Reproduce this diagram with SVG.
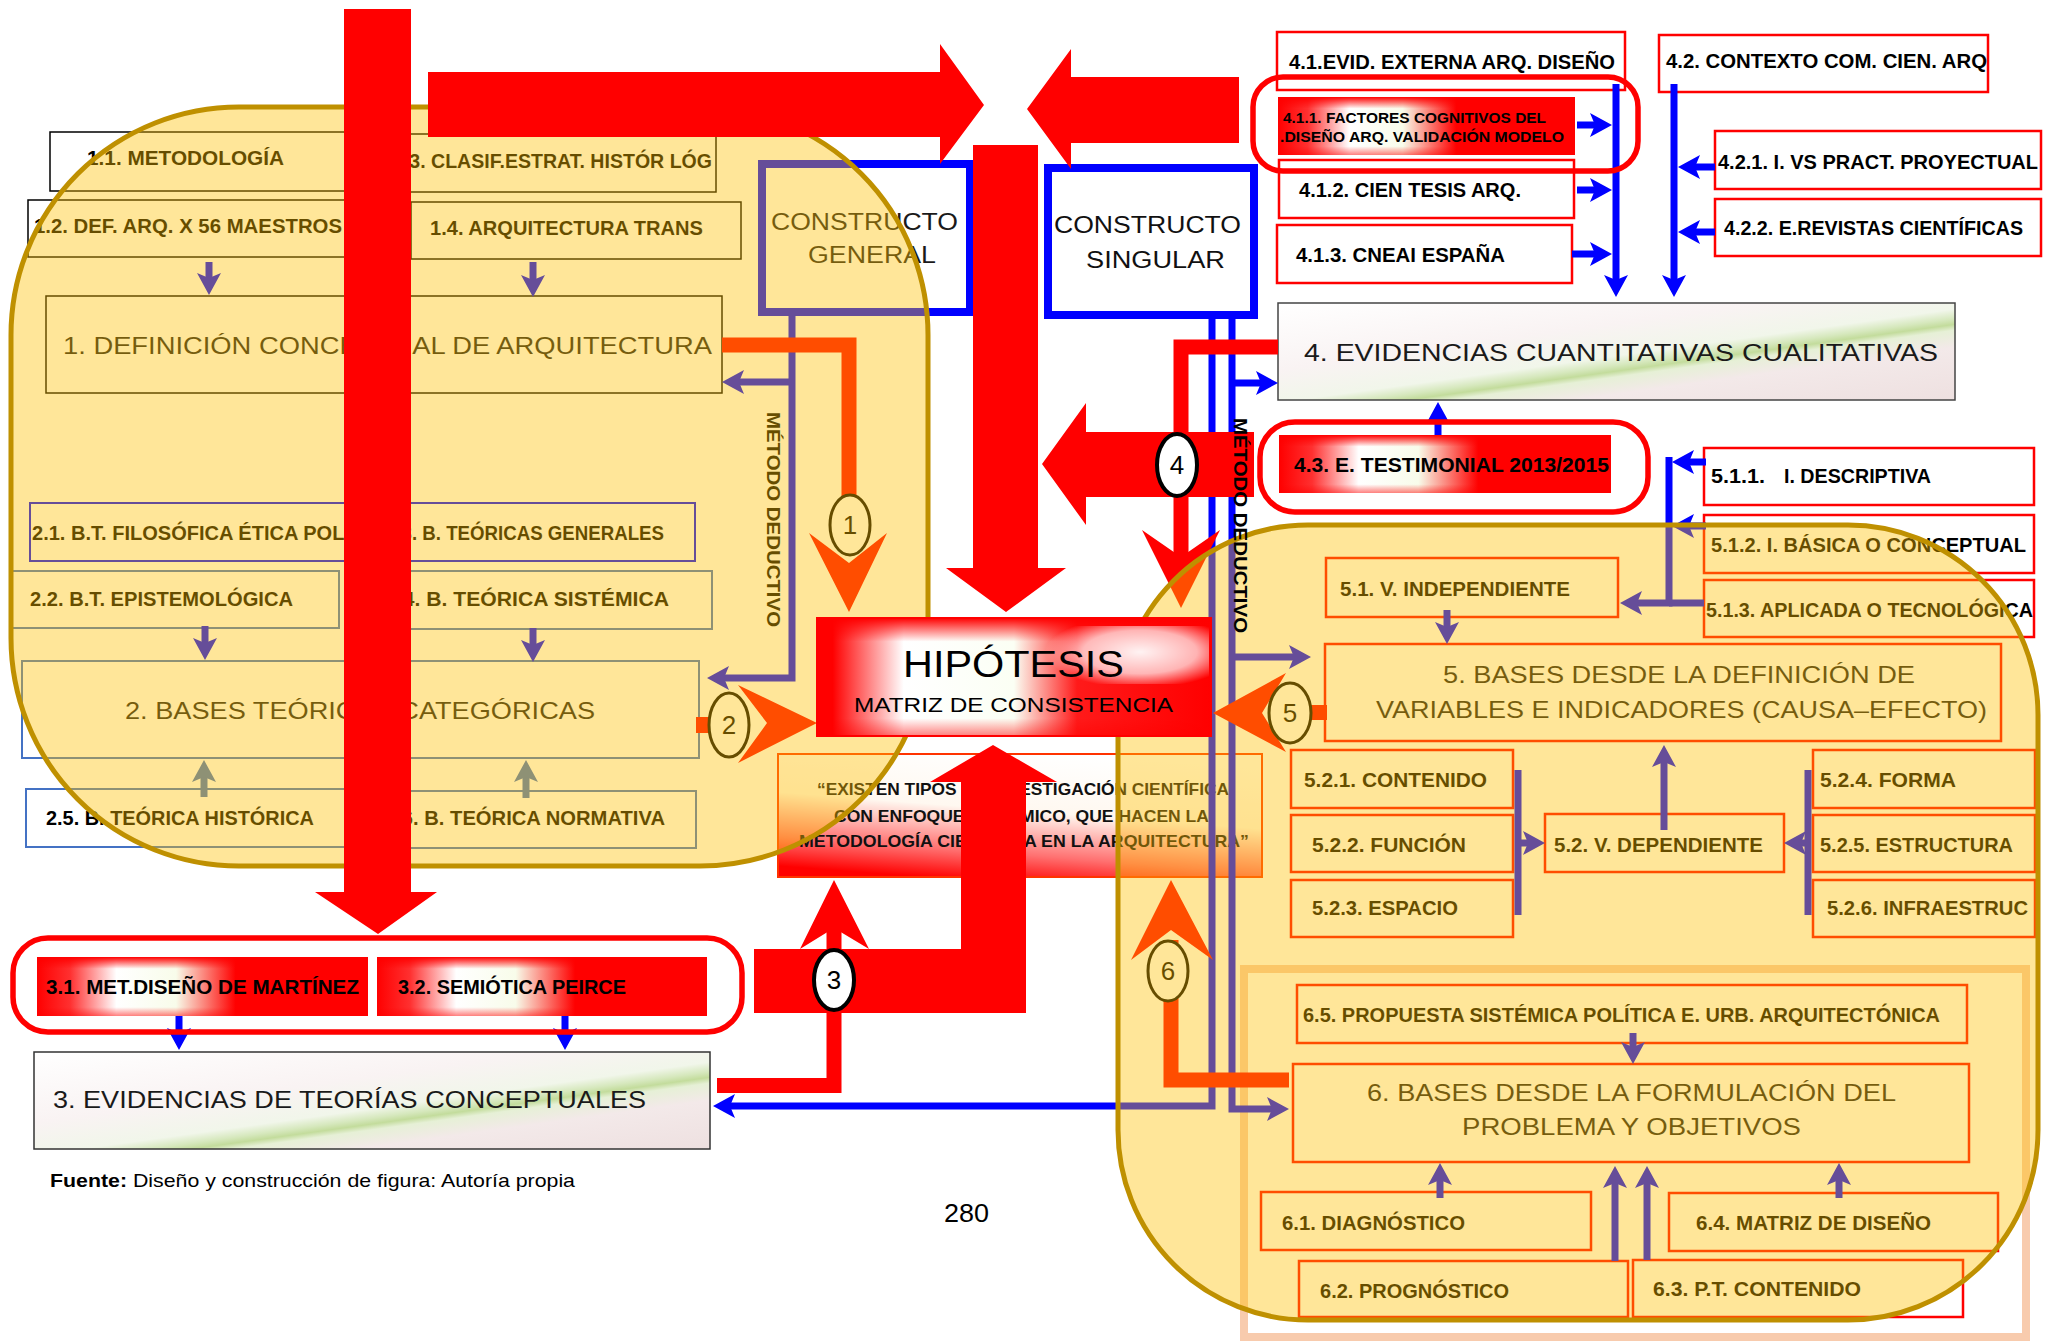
<svg xmlns="http://www.w3.org/2000/svg" width="2058" height="1342" viewBox="0 0 2058 1342">
<style>
text{font-family:"Liberation Sans",Arial,Helvetica,sans-serif}
.b{font-weight:bold;font-size:20px;fill:#000}
.b21{font-weight:bold;font-size:21px;fill:#000}
.l{font-size:24px;fill:#1a1a1a}
.bx{fill:#fff;stroke:#000;stroke-width:1.5}
.bb{fill:#fff;stroke:#4472C4;stroke-width:2}
.bp{fill:#fff;stroke:#0000ff;stroke-width:2}
.rb{fill:#fff;stroke:#ff0000;stroke-width:2.5}
.cb{fill:#fff;stroke:#0000ff;stroke-width:8}
.og{fill:none;stroke:#ff0000;stroke-width:5.5}
.ln{fill:none;stroke:#0000ff;stroke-width:7;marker-end:url(#mB)}
.ln0{fill:none;stroke:#0000ff;stroke-width:7}
.ls{fill:none;stroke:#4472C4;stroke-width:7;marker-end:url(#mS)}
.rl{fill:none;stroke:#ff0000;stroke-width:15}
.ra{fill:#ff0000}
.reg{fill:#FFC000;fill-opacity:0.4;stroke:#BF9000;stroke-width:5}
.ci{fill:#fff;stroke:#000;stroke-width:3}
.cd{font-size:26px;fill:#000;text-anchor:middle}
</style>
<defs>
<marker id="mB" markerUnits="userSpaceOnUse" markerWidth="22" markerHeight="24" refX="15" refY="12" orient="auto" overflow="visible"><path d="M0,0 L22,12 L0,24 L5,12 z" fill="#0000ff"/></marker>
<marker id="mS" markerUnits="userSpaceOnUse" markerWidth="22" markerHeight="24" refX="15" refY="12" orient="auto" overflow="visible"><path d="M0,0 L22,12 L0,24 L5,12 z" fill="#4472C4"/></marker>
<linearGradient id="gR" x1="0" y1="0" x2="1" y2="0">
<stop offset="0" stop-color="#ff0000"/><stop offset="0.1" stop-color="#ff3030"/><stop offset="0.24" stop-color="#ffffff"/><stop offset="0.42" stop-color="#f8fcea"/><stop offset="0.6" stop-color="#ff0000"/><stop offset="1" stop-color="#ff0000"/>
</linearGradient>
<linearGradient id="gRv" x1="0" y1="0" x2="0" y2="1">
<stop offset="0" stop-color="#ff0000" stop-opacity="1"/><stop offset="0.2" stop-color="#ff0000" stop-opacity="0"/><stop offset="0.85" stop-color="#ff0000" stop-opacity="0"/><stop offset="1" stop-color="#ff0000" stop-opacity="0.5"/>
</linearGradient>
<linearGradient id="gH" x1="0" y1="0" x2="1" y2="0">
<stop offset="0" stop-color="#ff0000"/><stop offset="0.04" stop-color="#ff0000"/><stop offset="0.22" stop-color="#ffffff"/><stop offset="0.5" stop-color="#fbfff4"/><stop offset="0.66" stop-color="#ff1a1a"/><stop offset="1" stop-color="#ff0000"/>
</linearGradient>
<radialGradient id="gHw" gradientUnits="userSpaceOnUse" cx="1140" cy="652" r="95" gradientTransform="translate(1140 652) scale(1 0.38) translate(-1140 -652)">
<stop offset="0" stop-color="#ffffff" stop-opacity="0.95"/><stop offset="0.6" stop-color="#ffffff" stop-opacity="0.7"/><stop offset="1" stop-color="#ffffff" stop-opacity="0"/>
</radialGradient>
<linearGradient id="gE4" gradientUnits="userSpaceOnUse" x1="1278" y1="303" x2="1304" y2="491">
<stop offset="0" stop-color="#ffffff"/><stop offset="0.35" stop-color="#f9f3f3"/><stop offset="0.52" stop-color="#f1f6ea"/><stop offset="0.57" stop-color="#d6e8bd"/><stop offset="0.6" stop-color="#c3dc9c"/><stop offset="0.63" stop-color="#e6f0d6"/><stop offset="0.72" stop-color="#f3e9e9"/><stop offset="1" stop-color="#eee0e0"/>
</linearGradient>
<linearGradient id="gE3" gradientUnits="userSpaceOnUse" x1="34" y1="1052" x2="60" y2="1240">
<stop offset="0" stop-color="#ffffff"/><stop offset="0.37" stop-color="#f9f3f3"/><stop offset="0.54" stop-color="#f1f6ea"/><stop offset="0.59" stop-color="#d6e8bd"/><stop offset="0.62" stop-color="#c3dc9c"/><stop offset="0.65" stop-color="#e6f0d6"/><stop offset="0.74" stop-color="#f3e9e9"/><stop offset="1" stop-color="#eee0e0"/>
</linearGradient>
<linearGradient id="gQ" x1="0.6" y1="0" x2="0.3" y2="1">
<stop offset="0" stop-color="#ffffff"/><stop offset="0.45" stop-color="#fff8f0"/><stop offset="0.78" stop-color="#ff7070"/><stop offset="1" stop-color="#ff0000"/>
</linearGradient>
</defs>

<rect width="2058" height="1342" fill="#fff"/>

<!-- inner frame of region 6 -->
<rect x="1244" y="969" width="782" height="368" fill="none" stroke="#F8CBAD" stroke-width="8"/>

<!-- nodes under regions -->
<g id="n1-1"><rect class="bx" x="50" y="132" width="350" height="59"/><text class="b" x="87" y="165" textLength="197" lengthAdjust="spacingAndGlyphs">1.1. METODOLOGÍA</text></g>
<g id="n1-3"><rect class="bx" x="385" y="134" width="331" height="58"/><text class="b" x="393" y="168" textLength="319" lengthAdjust="spacingAndGlyphs">1.3. CLASIF.ESTRAT. HISTÓR LÓG</text></g>
<g id="n1-2"><rect class="bx" x="28" y="200" width="372" height="57"/><text class="b" x="34" y="233" textLength="308" lengthAdjust="spacingAndGlyphs">1.2. DEF. ARQ. X 56 MAESTROS</text></g>
<g id="n1-4"><rect class="bx" x="411" y="202" width="330" height="57"/><text class="b" x="430" y="235" textLength="273" lengthAdjust="spacingAndGlyphs">1.4. ARQUITECTURA TRANS</text></g>
<g id="n1"><rect class="bx" x="46" y="296" width="676" height="97"/><text class="l" x="63" y="354" textLength="649" lengthAdjust="spacingAndGlyphs">1. DEFINICIÓN CONCEPTUAL DE ARQUITECTURA</text></g>
<g id="n2-1"><rect class="bp" x="30" y="503" width="360" height="58"/><text class="b" x="32" y="540" textLength="318" lengthAdjust="spacingAndGlyphs">2.1. B.T. FILOSÓFICA ÉTICA POL.</text></g>
<g id="n2-3"><rect class="bp" x="380" y="503" width="315" height="58"/><text class="b" x="386" y="540" textLength="278" lengthAdjust="spacingAndGlyphs">2.3. B. TEÓRICAS GENERALES</text></g>
<g id="n2-2"><rect class="bb" x="10" y="571" width="329" height="57"/><text class="b" x="30" y="606" textLength="263" lengthAdjust="spacingAndGlyphs">2.2. B.T. EPISTEMOLÓGICA</text></g>
<g id="n2-4"><rect class="bb" x="352" y="571" width="360" height="58"/><text class="b" x="385" y="606" textLength="284" lengthAdjust="spacingAndGlyphs">2.4. B. TEÓRICA SISTÉMICA</text></g>
<g id="n2"><rect class="bb" x="22" y="661" width="677" height="97"/><text class="l" x="125" y="719" textLength="470" lengthAdjust="spacingAndGlyphs">2. BASES TEÓRICAS CATEGÓRICAS</text></g>
<g id="n2-5"><rect class="bb" x="26" y="789" width="360" height="58"/><text class="b" x="46" y="825" textLength="268" lengthAdjust="spacingAndGlyphs">2.5. B. TEÓRICA HISTÓRICA</text></g>
<g id="n2-6"><rect class="bb" x="380" y="791" width="316" height="57"/><text class="b" x="385" y="825" textLength="280" lengthAdjust="spacingAndGlyphs">2.6. B. TEÓRICA NORMATIVA</text></g>
<g id="cgeneral"><rect class="cb" x="762" y="164" width="208" height="148"/><text class="l" x="771" y="230" style="font-size:23px" textLength="187" lengthAdjust="spacingAndGlyphs">CONSTRUCTO</text><text class="l" x="808" y="263" style="font-size:23px" textLength="128" lengthAdjust="spacingAndGlyphs">GENERAL</text></g>
<g id="csingular"><rect class="cb" x="1048" y="168" width="206" height="147"/><text class="l" x="1054" y="233" style="font-size:23px;fill:#111" textLength="187" lengthAdjust="spacingAndGlyphs">CONSTRUCTO</text><text class="l" x="1086" y="268" style="font-size:23px;fill:#111" textLength="139" lengthAdjust="spacingAndGlyphs">SINGULAR</text></g>

<g id="n4-1"><rect class="rb" x="1277" y="32" width="348" height="58"/><text class="b21" x="1289" y="69" textLength="326" lengthAdjust="spacingAndGlyphs">4.1.EVID. EXTERNA ARQ. DISEÑO</text></g>
<g id="n4-2"><rect class="rb" x="1659" y="35" width="329" height="57"/><text class="b21" x="1666" y="68" textLength="321" lengthAdjust="spacingAndGlyphs">4.2. CONTEXTO COM. CIEN. ARQ</text></g>
<g id="n4-1-2"><rect class="rb" x="1279" y="160" width="295" height="58"/><text class="b21" x="1299" y="197" textLength="222" lengthAdjust="spacingAndGlyphs">4.1.2. CIEN TESIS ARQ.</text></g>
<g id="n4-1-3"><rect class="rb" x="1277" y="225" width="295" height="58"/><text class="b21" x="1296" y="262" textLength="209" lengthAdjust="spacingAndGlyphs">4.1.3. CNEAI ESPAÑA</text></g>
<g id="n4-2-1"><rect class="rb" x="1715" y="131" width="326" height="58"/><text class="b21" x="1718" y="169" textLength="320" lengthAdjust="spacingAndGlyphs">4.2.1. I. VS PRACT. PROYECTUAL</text></g>
<g id="n4-2-2"><rect class="rb" x="1715" y="199" width="326" height="57"/><text class="b21" x="1724" y="235" textLength="299" lengthAdjust="spacingAndGlyphs">4.2.2. E.REVISTAS CIENTÍFICAS</text></g>
<g id="n4"><rect x="1278" y="303" width="677" height="97" fill="url(#gE4)" stroke="#444" stroke-width="1.5"/><text class="l" x="1304" y="361" textLength="634" lengthAdjust="spacingAndGlyphs">4. EVIDENCIAS CUANTITATIVAS CUALITATIVAS</text></g>
<g id="n5-1-1"><rect class="rb" x="1704" y="448" width="330" height="57"/><text class="b"><tspan x="1711" y="483" textLength="54" lengthAdjust="spacingAndGlyphs">5.1.1.</tspan><tspan x="1784" y="483" textLength="147" lengthAdjust="spacingAndGlyphs">I. DESCRIPTIVA</tspan></text></g>
<g id="n5-1-2"><rect class="rb" x="1704" y="515" width="330" height="58"/><text class="b" x="1711" y="552" textLength="315" lengthAdjust="spacingAndGlyphs">5.1.2. I. BÁSICA O CONCEPTUAL</text></g>
<g id="n5-1-3"><rect class="rb" x="1704" y="580" width="330" height="57"/><text class="b" x="1706" y="617" textLength="327" lengthAdjust="spacingAndGlyphs">5.1.3. APLICADA O TECNOLÓGICA</text></g>
<g id="n5-1"><rect class="rb" x="1326" y="558" width="292" height="59"/><text class="b" x="1340" y="596" textLength="230" lengthAdjust="spacingAndGlyphs">5.1. V. INDEPENDIENTE</text></g>
<g id="n5"><rect class="rb" x="1325" y="644" width="676" height="97"/><text class="l" x="1443" y="683" textLength="472" lengthAdjust="spacingAndGlyphs">5. BASES DESDE LA DEFINICIÓN DE</text><text class="l" x="1376" y="718" textLength="611" lengthAdjust="spacingAndGlyphs">VARIABLES E INDICADORES (CAUSA–EFECTO)</text></g>
<g id="n5-2-1"><rect class="rb" x="1291" y="750" width="222" height="58"/><text class="b" x="1304" y="787" textLength="183" lengthAdjust="spacingAndGlyphs">5.2.1. CONTENIDO</text></g>
<g id="n5-2-2"><rect class="rb" x="1291" y="815" width="222" height="57"/><text class="b" x="1312" y="852" textLength="154" lengthAdjust="spacingAndGlyphs">5.2.2. FUNCIÓN</text></g>
<g id="n5-2-3"><rect class="rb" x="1291" y="880" width="222" height="57"/><text class="b" x="1312" y="915" textLength="146" lengthAdjust="spacingAndGlyphs">5.2.3. ESPACIO</text></g>
<g id="n5-2"><rect class="rb" x="1545" y="814" width="239" height="58"/><text class="b" x="1554" y="852" textLength="209" lengthAdjust="spacingAndGlyphs">5.2. V. DEPENDIENTE</text></g>
<g id="n5-2-4"><rect class="rb" x="1813" y="750" width="222" height="58"/><text class="b" x="1820" y="787" textLength="136" lengthAdjust="spacingAndGlyphs">5.2.4. FORMA</text></g>
<g id="n5-2-5"><rect class="rb" x="1813" y="815" width="222" height="57"/><text class="b" x="1820" y="852" textLength="193" lengthAdjust="spacingAndGlyphs">5.2.5. ESTRUCTURA</text></g>
<g id="n5-2-6"><rect class="rb" x="1813" y="880" width="222" height="57"/><text class="b" x="1827" y="915" textLength="201" lengthAdjust="spacingAndGlyphs">5.2.6. INFRAESTRUC</text></g>
<g id="n6-5"><rect class="rb" x="1297" y="985" width="670" height="58"/><text class="b" x="1303" y="1022" textLength="637" lengthAdjust="spacingAndGlyphs">6.5. PROPUESTA SISTÉMICA POLÍTICA E. URB. ARQUITECTÓNICA</text></g>
<g id="n6"><rect class="rb" x="1293" y="1064" width="676" height="98"/><text class="l" x="1367" y="1101" textLength="529" lengthAdjust="spacingAndGlyphs">6. BASES DESDE LA FORMULACIÓN DEL</text><text class="l" x="1462" y="1135" textLength="339" lengthAdjust="spacingAndGlyphs">PROBLEMA Y OBJETIVOS</text></g>
<g id="n6-1"><rect class="rb" x="1261" y="1192" width="330" height="58"/><text class="b" x="1282" y="1230" textLength="183" lengthAdjust="spacingAndGlyphs">6.1. DIAGNÓSTICO</text></g>
<g id="n6-4"><rect class="rb" x="1669" y="1193" width="329" height="58"/><text class="b" x="1696" y="1230" textLength="235" lengthAdjust="spacingAndGlyphs">6.4. MATRIZ DE DISEÑO</text></g>
<g id="n6-2"><rect class="rb" x="1299" y="1261" width="329" height="56"/><text class="b" x="1320" y="1298" textLength="189" lengthAdjust="spacingAndGlyphs">6.2. PROGNÓSTICO</text></g>
<g id="n6-3"><rect class="rb" x="1633" y="1260" width="330" height="57"/><text class="b" x="1653" y="1296" textLength="208" lengthAdjust="spacingAndGlyphs">6.3. P.T. CONTENIDO</text></g>
<g id="quote"><rect x="778" y="754" width="484" height="123" fill="url(#gQ)" stroke="#ff3300" stroke-width="2"/>
<text class="b" style="font-size:17px;fill:#111" x="817" y="795" textLength="412" lengthAdjust="spacingAndGlyphs">“EXISTEN TIPOS DE INVESTIGACIÓN CIENTÍFICA</text>
<text class="b" style="font-size:17px;fill:#111" x="834" y="822" textLength="375" lengthAdjust="spacingAndGlyphs">CON ENFOQUE SISTÉMICO, QUE HACEN LA</text>
<text class="b" style="font-size:17px;fill:#111" x="799" y="847" textLength="450" lengthAdjust="spacingAndGlyphs">METODOLOGÍA CIENTÍFICA EN LA ARQUITECTURA”</text></g>
<g id="n3"><rect x="34" y="1052" width="676" height="97" fill="url(#gE3)" stroke="#333" stroke-width="1.5"/><text class="l" x="53" y="1108" textLength="593" lengthAdjust="spacingAndGlyphs">3. EVIDENCIAS DE TEORÍAS CONCEPTUALES</text></g>
<text class="b" transform="translate(767,412) rotate(90)" style="font-size:19px" textLength="215" lengthAdjust="spacingAndGlyphs">MÉTODO DEDUCTIVO</text>

<!-- thin connectors -->
<g id="connectors">
<path class="ln" d="M209,262 V288"/>
<path class="ln" d="M533,262 V290"/>
<path class="ln" d="M205,626 V653"/>
<path class="ln" d="M533,628 V655"/>
<path class="ls" d="M204,797 V767"/>
<path class="ls" d="M526,798 V767"/>
<path class="ln" d="M792,312 V678 H714"/>
<path class="ln" d="M792,382 H729"/>
<path class="ln" d="M1212,315 V1106 H720"/>
<path class="ln" d="M1232,315 V1109 H1282"/>
<path class="ln" d="M1232,383 H1271"/>
<path class="ln" d="M1232,657 H1304"/>
<path class="ln" d="M1616,84 V290"/>
<path class="ln" d="M1577,125 H1605"/>
<path class="ln" d="M1577,190 H1605"/>
<path class="ln" d="M1572,254 H1605"/>
<path class="ln" d="M1674,84 V290"/>
<path class="ln" d="M1715,167 H1685"/>
<path class="ln" d="M1715,232 H1685"/>
<path class="ln" d="M1438,435 V409"/>
<path class="ln" d="M1669,457 V603 H1627"/>
<path class="ln0" d="M1704,603 H1669"/>
<path class="ln" d="M1706,462 H1679"/>
<path class="ln" d="M1706,526 H1679"/>
<path class="ln" d="M1447,610 V637"/>
<path class="ln" d="M1664,830 V752"/>
<path class="ln0" d="M1518,770 V915"/>
<path class="ln" d="M1518,843 H1538"/>
<path class="ln0" d="M1808,770 V915"/>
<path class="ln" d="M1808,843 H1791"/>
<path class="ln" d="M1633,1033 V1057"/>
<path class="ln" d="M1440,1198 V1170"/>
<path class="ln" d="M1615,1261 V1173"/>
<path class="ln" d="M1647,1260 V1173"/>
<path class="ln" d="M1839,1198 V1170"/>
<path class="ln" d="M179,1016 V1043"/>
<path class="ln" d="M565,1016 V1043"/>
<path class="rl" d="M722,345 H849 V540"/>
<polygon class="ra" points="809,533 849,563 887,533 849,612"/>
<rect class="ra" x="696" y="717" width="26" height="16"/>
<polygon class="ra" points="738,685 767,723 738,763 817,723"/>
<rect class="ra" x="1308" y="705" width="19" height="15"/>
<polygon class="ra" points="1286,673 1262,713 1286,752 1213,713"/>
<path class="rl" d="M1289,1080 H1171 V940"/>
<polygon class="ra" points="1171,880 1213,960 1171,930 1131,960"/>
<path class="rl" d="M1278,347 H1181 V562"/>
<polygon class="ra" points="1142,530 1181,557 1220,530 1181,608"/>
</g>
<g id="c1"><ellipse class="ci" cx="850" cy="525" rx="20" ry="30"/><text class="cd" x="850" y="534">1</text></g>
<g id="c2"><ellipse class="ci" cx="729" cy="725" rx="20" ry="32"/><text class="cd" x="729" y="734">2</text></g>
<g id="c5"><ellipse class="ci" cx="1290" cy="713" rx="21" ry="30"/><text class="cd" x="1290" y="722">5</text></g>
<g id="c6"><ellipse class="ci" cx="1168" cy="971" rx="20" ry="30"/><text class="cd" x="1168" y="980">6</text></g>

<!-- regions -->
<rect id="region1" class="reg" x="11" y="107" width="917" height="759" rx="228"/>
<rect id="region5" class="reg" x="1118" y="525" width="920" height="795" rx="190"/>

<!-- main connectors on top -->
<g id="connectors-main">
<polygon class="ra" points="344,9 411,9 411,892 437,892 378,934 315,892 344,892"/>
<polygon class="ra" points="428,72 940,72 940,44 984,105 940,164 940,137 428,137"/>
<polygon class="ra" points="1239,77 1071,77 1071,49 1027,109 1071,169 1071,143 1239,143"/>
<polygon class="ra" points="973,145 1038,145 1038,568 1066,568 1006,612 946,568 973,568"/>
<polygon class="ra" points="1254,432 1086,432 1086,403 1042,464 1086,525 1086,497 1254,497"/>
<polygon class="ra" points="754,949 961,949 961,782 930,782 993,745 1057,782 1026,782 1026,1013 754,1013"/>
<path class="rl" d="M717,1085.5 H834 V1010"/>
<path class="rl" d="M834,949 V905"/>
<polygon class="ra" points="834,880 869,949 834,928 800,949"/>
</g>

<g id="hipotesis"><rect x="817" y="618" width="394" height="118" fill="url(#gH)" stroke="#ff0000" stroke-width="2"/><rect x="817" y="618" width="394" height="118" fill="url(#gRv)"/><rect x="1030" y="626" width="179" height="58" fill="url(#gHw)"/>
<text x="903" y="677" style="font-size:37px;fill:#000" textLength="221" lengthAdjust="spacingAndGlyphs">HIPÓTESIS</text>
<text x="854" y="712" style="font-size:21px;fill:#000" textLength="319" lengthAdjust="spacingAndGlyphs">MATRIZ DE CONSISTENCIA</text></g>
<g id="c3"><ellipse cx="834" cy="980" rx="20" ry="30" fill="#fff" stroke="#000" stroke-width="4"/><text class="cd" x="834" y="989">3</text></g>
<g id="c4"><ellipse cx="1177" cy="465" rx="20" ry="31" fill="#fff" stroke="#000" stroke-width="4"/><text class="cd" x="1177" y="474">4</text></g>
<text class="b" transform="translate(1234,418) rotate(90)" style="font-size:19px" textLength="215" lengthAdjust="spacingAndGlyphs">MÉTODO DEDUCTIVO</text>

<g id="g4-1-1"><rect class="og" x="1253" y="77" width="385" height="94" rx="30"/>
<rect x="1278" y="97" width="297" height="58" fill="url(#gR)"/><rect x="1278" y="97" width="297" height="58" fill="url(#gRv)"/>
<text class="b" style="font-size:14.5px" x="1283" y="123" textLength="263" lengthAdjust="spacingAndGlyphs">4.1.1. FACTORES COGNITIVOS DEL</text>
<text class="b" style="font-size:14.5px" x="1280" y="142" textLength="284" lengthAdjust="spacingAndGlyphs">.DISEÑO ARQ. VALIDACIÓN MODELO</text></g>
<g id="g4-3"><rect class="og" x="1260" y="422" width="388" height="90" rx="35"/>
<rect x="1279" y="435" width="332" height="58" fill="url(#gR)"/><rect x="1279" y="435" width="332" height="58" fill="url(#gRv)"/>
<text class="b21" x="1294" y="472" textLength="315" lengthAdjust="spacingAndGlyphs">4.3. E. TESTIMONIAL 2013/2015</text></g>
<g id="g3"><rect class="og" x="13" y="938" width="729" height="94" rx="35"/>
<rect x="37" y="957" width="331" height="59" fill="url(#gR)"/><rect x="37" y="957" width="331" height="59" fill="url(#gRv)"/>
<text class="b21" x="46" y="994" textLength="313" lengthAdjust="spacingAndGlyphs">3.1. MET.DISEÑO DE MARTÍNEZ</text>
<rect x="377" y="957" width="330" height="59" fill="url(#gR)"/><rect x="377" y="957" width="330" height="59" fill="url(#gRv)"/>
<text class="b21" x="398" y="994" textLength="228" lengthAdjust="spacingAndGlyphs">3.2. SEMIÓTICA PEIRCE</text></g>

<text x="50" y="1187" style="font-size:19px;fill:#000" textLength="525" lengthAdjust="spacingAndGlyphs"><tspan font-weight="bold">Fuente:</tspan> Diseño y construcción de figura: Autoría propia</text>
<text x="944" y="1222" style="font-size:25px;fill:#000" textLength="45" lengthAdjust="spacingAndGlyphs">280</text>
</svg>
